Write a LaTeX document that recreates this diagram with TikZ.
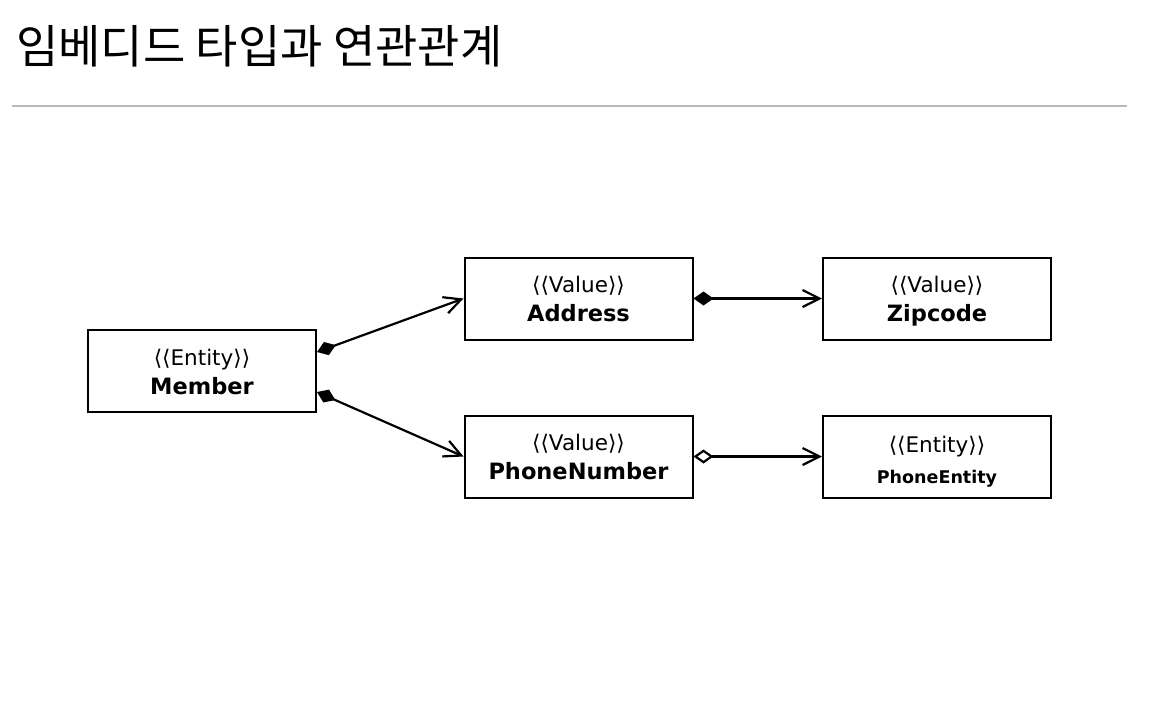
\documentclass[tikz,border=0pt]{standalone}
\usepackage{fontspec}
\usetikzlibrary{arrows.meta}
\newfontfamily\titlefont{Noto Sans CJK KR}
\newfontfamily\boxfont{DejaVu Sans}
\newcommand{\clsname}{\bfseries\fontsize{22.5}{29}\selectfont}
\tikzset{
  umlbox/.style={draw, line width=2pt, minimum width=228pt, minimum height=82pt,
    align=center, inner sep=0pt, text height=48pt, text depth=2pt,
    font=\boxfont\fontsize{21.5}{29}\selectfont},
  comp/.style={line width=2.2pt, {Diamond[length=20pt,width=14pt]}-{Straight Barb[length=17pt,width=17pt]}},
  aggr/.style={line width=2.2pt, {Diamond[open,fill=white,length=20pt,width=14pt]}-{Straight Barb[length=17pt,width=17pt]}}
}
\begin{document}
\begin{tikzpicture}[x=1pt,y=-1pt]
        \useasboundingbox (0,0) rectangle (1162,718);

        % title
        \node[anchor=base west, inner sep=0pt] (title) at (16,63) {\titlefont\fontsize{46}{50}\selectfont 임베디드 타입과 연관관계};
        \draw[gray!55, line width=1.2pt] (12,106) -- (1127,106);

        % classes
        \node[umlbox] (member) at (202,371) {⟨⟨Entity⟩⟩\\\clsname Member};
        \node[umlbox] (address) at (578.5,298.5) {⟨⟨Value⟩⟩\\\clsname Address};
        \node[umlbox] (zipcode) at (937,298.5) {⟨⟨Value⟩⟩\\\clsname Zipcode};
        \node[umlbox] (phone) at (578.5,456.5) {⟨⟨Value⟩⟩\\\clsname PhoneNumber};
        \node[umlbox, text height=55pt] (phoneentity) at (937,456.5) {⟨⟨Entity⟩⟩\\[2pt]\bfseries\fontsize{17.5}{29}\selectfont PhoneEntity};

        % associations
        \draw[comp] ([yshift=19pt]member.east) -- (address.west);
        \draw[comp] ([yshift=-21pt]member.east) -- (phone.west);
        \draw[comp] (address.east) -- (zipcode.west);
        \draw[aggr] (phone.east) -- (phoneentity.west);
\end{tikzpicture}
\end{document}
